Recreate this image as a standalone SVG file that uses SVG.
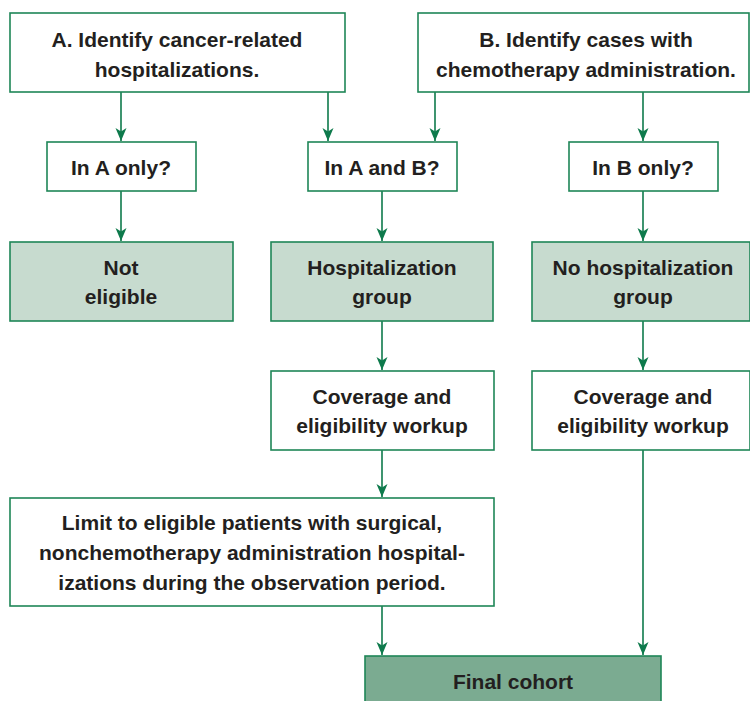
<svg xmlns="http://www.w3.org/2000/svg" width="750" height="701" viewBox="0 0 750 701">
<style>
  .box{fill:#ffffff;stroke:#1f8657;stroke-width:1.6}
  .lt{fill:#c7dbcf;stroke:#1f8657;stroke-width:1.6}
  .dk{fill:#7bab91;stroke:#1f8657;stroke-width:1.6}
  .t{font-family:"Liberation Sans",Arial,sans-serif;font-size:21px;font-weight:bold;fill:#231f20;text-anchor:middle}
  .c{stroke:#0e7a4c;stroke-width:1.6;fill:none;marker-end:url(#ah)}
</style>
<defs>
  <marker id="ah" markerUnits="userSpaceOnUse" markerWidth="14" markerHeight="12" refX="13" refY="6" orient="auto" viewBox="0 0 14 12">
    <path d="M0,0.5 L13,6 L0,11.5 L3.5,6 Z" fill="#0e7a4c"/>
  </marker>
</defs>
<rect width="750" height="701" fill="#ffffff"/>
<g id="connectors">
  <line class="c" x1="121" y1="92" x2="121" y2="141"/>
  <line class="c" x1="328" y1="92" x2="328" y2="141"/>
  <line class="c" x1="435" y1="92" x2="435" y2="141"/>
  <line class="c" x1="643" y1="92" x2="643" y2="141"/>
  <line class="c" x1="121" y1="191" x2="121" y2="241"/>
  <line class="c" x1="382" y1="191" x2="382" y2="241"/>
  <line class="c" x1="643" y1="191" x2="643" y2="241"/>
  <line class="c" x1="382" y1="321" x2="382" y2="370"/>
  <line class="c" x1="643" y1="321" x2="643" y2="370"/>
  <line class="c" x1="382" y1="450" x2="382" y2="497"/>
  <line class="c" x1="382" y1="606" x2="382" y2="655"/>
  <line class="c" x1="643" y1="450" x2="643" y2="655"/>
</g>
<g id="nodeA">
  <rect class="box" x="10" y="13" width="335" height="79"/>
  <text class="t" x="177" y="47">A. Identify cancer-related</text>
  <text class="t" x="177" y="77">hospitalizations.</text>
</g>
<g id="nodeB">
  <rect class="box" x="418" y="13" width="331" height="79"/>
  <text class="t" x="586" y="47">B. Identify cases with</text>
  <text class="t" x="586" y="77">chemotherapy administration.</text>
</g>
<g id="inAonly">
  <rect class="box" x="47" y="142" width="149" height="49"/>
  <text class="t" x="121" y="175">In A only?</text>
</g>
<g id="inAandB">
  <rect class="box" x="308" y="142" width="149" height="49"/>
  <text class="t" x="382" y="175">In A and B?</text>
</g>
<g id="inBonly">
  <rect class="box" x="569" y="142" width="149" height="49"/>
  <text class="t" x="643" y="175">In B only?</text>
</g>
<g id="notEligible">
  <rect class="lt" x="10" y="242" width="223" height="79"/>
  <text class="t" x="121" y="275">Not</text>
  <text class="t" x="121" y="304">eligible</text>
</g>
<g id="hospGroup">
  <rect class="lt" x="271" y="242" width="222" height="79"/>
  <text class="t" x="382" y="275">Hospitalization</text>
  <text class="t" x="382" y="304">group</text>
</g>
<g id="noHospGroup">
  <rect class="lt" x="532" y="242" width="218" height="79"/>
  <text class="t" x="643" y="275">No hospitalization</text>
  <text class="t" x="643" y="304">group</text>
</g>
<g id="coverage1">
  <rect class="box" x="271" y="371" width="223" height="79"/>
  <text class="t" x="382" y="404">Coverage and</text>
  <text class="t" x="382" y="433">eligibility workup</text>
</g>
<g id="coverage2">
  <rect class="box" x="532" y="371" width="218" height="79"/>
  <text class="t" x="643" y="404">Coverage and</text>
  <text class="t" x="643" y="433">eligibility workup</text>
</g>
<g id="limit">
  <rect class="box" x="10" y="498" width="484" height="108"/>
  <text class="t" x="252" y="530">Limit to eligible patients with surgical,</text>
  <text class="t" x="252" y="560">nonchemotherapy administration hospital-</text>
  <text class="t" x="252" y="590">izations during the observation period.</text>
</g>
<g id="finalCohort">
  <rect class="dk" x="365" y="656" width="296" height="50"/>
  <text class="t" x="513" y="689">Final cohort</text>
</g>
</svg>
